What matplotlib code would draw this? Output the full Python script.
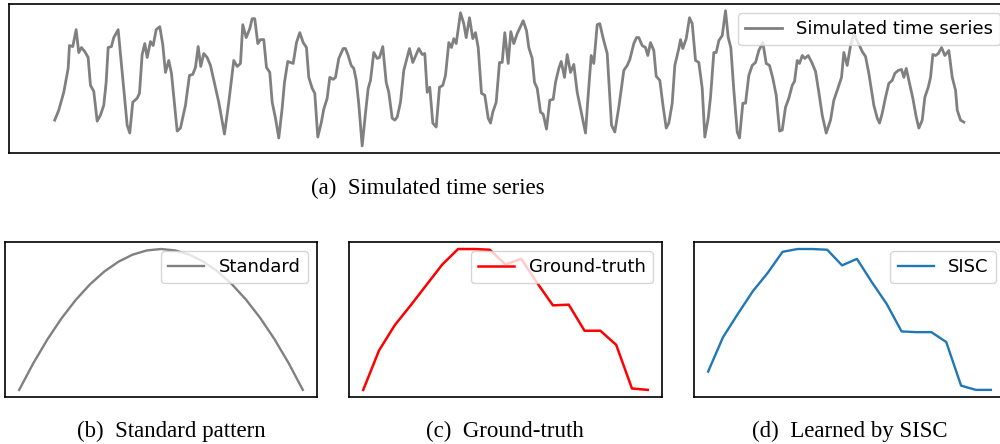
import matplotlib
matplotlib.use("Agg")
import matplotlib.pyplot as plt

# simulated series (time, value)
sim_time = [0, 4, 9, 13.4, 14.7, 18, 21.4, 24, 26.7, 30, 33.4, 35.7, 39, 42.4, 45.7, 49, 51.4, 53.4, 56.7, 59,
            63.4, 68, 72.4, 75, 78, 82.4, 84.7, 87.4, 90, 92.4, 95.7, 98.4, 101.4, 105, 108, 110.7, 114, 116.7,
            122.4, 125.7, 130.7, 134.7, 138, 140.7, 143.4, 146, 149, 152.4, 155.7, 159.7, 164, 169.7, 174, 179,
            182.4, 185.7, 188, 191.4, 195, 197.4, 200, 203, 205.7, 209, 211.7, 215, 217.4, 220.7, 224, 227.4,
            229.7, 233, 238.4, 241.7, 245, 248.4, 251.7, 254, 257.4, 260, 263, 266.4, 269, 272.4, 275, 278.4,
            280.7, 284, 288.4, 290.7, 293.4, 296.4, 299, 301.5, 304, 307.4, 310.7, 313.4, 315.7, 319, 322.4,
            324.7, 328, 331.4, 334, 337.4, 340, 342.4, 345.7, 349, 354.7, 358, 364, 367.4, 370, 372.4, 375, 378,
            381.4, 384.7, 388, 390.7, 394, 396.7, 399, 401.4, 405.7, 409, 411.4, 414.7, 418, 420.7, 423.4, 426.7,
            430, 433.4, 435.7, 438, 441.4, 444.7, 447.4, 450, 453.4, 456, 459, 462.4, 468.4, 471.7, 474, 477.4,
            479.7, 482.4, 485.7, 488.4, 491.7, 495, 498.4, 500.7, 504, 506.4, 509.7, 512.4, 515.7, 519, 522.4,
            526.4, 530.7, 533, 536.4, 539, 542.4, 545, 548.4, 552.4, 556.7, 560, 564, 569, 572.4, 575, 579,
            581.7, 584, 587.4, 590.7, 593, 595.7, 599, 601.4, 605, 608.4, 611.4, 614, 617.4, 620, 624, 625.7,
            628, 631.4, 634.7, 637.4, 640.7, 644, 647.4, 650, 653.4, 655.7, 659, 661.4, 664, 667.4, 670.7, 673.4,
            676, 679, 682.4, 684.7, 688, 690.7, 694, 697.4, 700.7, 704, 708, 711.4, 714.7, 718, 721.4, 724.7,
            727.4, 730.7, 734, 737.4, 739.7, 742.4, 744.7, 747.4, 750, 753.4, 757.4, 760.7, 764, 767.4, 771.4,
            775.7, 779, 782.4, 786.7, 789, 792.4, 795.7, 799, 802.4, 807.4, 810.7, 814, 819, 822.4, 824.7, 827.4,
            830.7, 834, 837.4, 840, 843.4, 846.7, 849, 851.4, 854.7, 858, 861.4, 864, 867.4, 870, 873.4, 875.7,
            878, 880.7, 883.4, 886.7, 890, 894, 897.4, 900.7, 902.4, 905.7, 909]
sim_value = [26, 36, 54, 78, 101, 100, 117, 94, 99, 95, 89, 61, 55, 25, 31, 41, 64, 99, 100, 109,
             117, 68, 21, 13, 44, 48, 53, 92, 103, 89, 105, 101, 117, 120, 102, 74, 86, 73,
             15, 18, 41, 71, 72, 79, 100, 80, 93, 89, 81, 63, 44, 12, 44, 86,
             80, 83, 122, 109, 118, 128, 128, 103, 107, 107, 79, 74, 44, 28, 8, 38,
             64, 85, 83, 104, 114, 104, 99, 69, 58, 53, 9, 23, 37, 48, 69, 67,
             69, 88, 98, 98, 91, 81, 78, 66, 42, 0, 33, 58, 66, 94, 88,
             89, 100, 64, 54, 28, 26, 29, 44, 76, 98, 84, 98, 92, 93, 54, 59, 23,
             19, 59, 61, 71, 104, 99, 108, 103, 134, 123, 109, 129, 108, 114, 99, 53,
             51, 28, 23, 34, 44, 84, 84, 114, 83, 115, 103, 113, 126, 116, 99, 88,
             64, 58, 34, 32, 17, 46, 47, 64, 78, 85, 69, 92, 74, 82, 54,
             34, 13, 46, 91, 83, 122, 123, 108, 93, 21, 14, 39, 76, 81, 87, 103,
             109, 109, 101, 99, 91, 104, 96, 70, 66, 39, 18, 23, 43, 81, 98, 107,
             98, 108, 129, 123, 86, 84, 58, 9, 28, 49, 94, 94, 106, 111, 136, 109,
             99, 56, 14, 8, 43, 43, 71, 81, 84, 96, 104, 83, 81, 68, 51, 15,
             16, 39, 48, 61, 65, 86, 83, 91, 88, 91, 83, 75, 54, 31, 13,
             26, 46, 56, 69, 94, 81, 101, 113, 106, 95, 90, 73, 41, 28, 23, 33,
             49, 63, 66, 73, 76, 77, 69, 78, 63, 48, 29, 18, 26, 49, 59, 69,
             92, 91, 93, 99, 91, 96, 69, 56, 36, 26, 24]

standard = [0, 0.19, 0.36, 0.51, 0.64, 0.75, 0.84, 0.91, 0.96, 0.99, 1.0,
            0.99, 0.96, 0.91, 0.84, 0.75, 0.64, 0.51, 0.36, 0.19, 0]
ground_truth = [0.0, 0.28, 0.46, 0.60, 0.745, 0.89, 1.0, 1.0, 0.995, 0.89, 0.93,
                0.76, 0.60, 0.605, 0.42, 0.42, 0.32, 0.01, 0.0]
sisc = [0.13, 0.374, 0.54, 0.70, 0.83, 0.98, 1.0, 1.0, 0.995, 0.884, 0.93,
        0.765, 0.61, 0.415, 0.41, 0.41, 0.34, 0.03, 0.0, 0.0]

captions = ["(a)  Simulated time series", "(b)  Standard pattern",
            "(c)  Ground-truth", "(d)  Learned by SISC"]

fig = plt.figure(figsize=(10, 4.44), dpi=100)

ax_top = fig.add_axes([0.0093, 0.656, 1.0, 0.335])
ax_top.plot(sim_time, sim_value, color="gray", lw=2.0, label="Simulated time series")

ax_b = fig.add_axes([0.005, 0.106, 0.312, 0.349])
ax_b.plot(range(len(standard)), standard, color="gray", lw=1.7, label="Standard")

ax_c = fig.add_axes([0.349, 0.106, 0.313, 0.349])
ax_c.plot(range(len(ground_truth)), ground_truth, color="red", lw=1.8, label="Ground-truth")

ax_d = fig.add_axes([0.694, 0.106, 0.311, 0.349])
ax_d.plot(range(len(sisc)), sisc, color="#1f77b4", lw=1.7, label="SISC")

for ax in [ax_top, ax_b, ax_c, ax_d]:
    ax.set_xticks([])
    ax.set_yticks([])
    for s in ax.spines.values():
        s.set_linewidth(1.2)
    ax.legend(loc="upper right", fontsize=13)

cap_font = dict(family=["Liberation Serif", "DejaVu Serif"], fontsize=16.5, ha="center", va="center")
fig.text(0.428, 1 - 188 / 444, captions[0], **cap_font)
fig.text(0.171, 1 - 431 / 444, captions[1], **cap_font)
fig.text(0.505, 1 - 431 / 444, captions[2], **cap_font)
fig.text(0.850, 1 - 431 / 444, captions[3], **cap_font)

fig.savefig("out.png", dpi=100)
